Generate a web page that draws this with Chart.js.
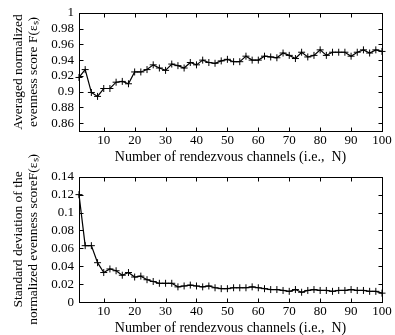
<!DOCTYPE html>
<html>
<head>
    <title>Evenness score vs rendezvous channels</title>
    <script src="https://cdn.jsdelivr.net/npm/chart.js"></script>
    <style>
        body { margin: 0; width: 395px; height: 335px; overflow: hidden; background: #fff; }
        .box { position: absolute; left: 0; width: 395px; }
        #topBox { top: 0; height: 166px; }
        #bottomBox { top: 140px; height: 197px; }
    </style>
</head>
<body>
    <div id="topBox" class="box"><canvas id="avgChart"></canvas></div>
    <div id="bottomBox" class="box"><canvas id="stdChart"></canvas></div>
<script>
// number of rendezvous channels
const channels = [2, 4, 6, 8, 10, 12, 14, 16, 18, 20, 22, 24, 26, 28, 30, 32, 34, 36, 38, 40,
    42, 44, 46, 48, 50, 52, 54, 56, 58, 60, 62, 64, 66, 68, 70, 72, 74, 76, 78, 80,
    82, 84, 86, 88, 90, 92, 94, 96, 98, 100];

// averaged normalized evenness score
const avgScore = [0.918, 0.928, 0.899, 0.894, 0.904, 0.904, 0.912, 0.913, 0.910, 0.925,
    0.925, 0.928, 0.934, 0.930, 0.927, 0.935, 0.933, 0.930, 0.937, 0.934,
    0.940, 0.937, 0.936, 0.939, 0.941, 0.938, 0.938, 0.945, 0.940, 0.940,
    0.945, 0.944, 0.943, 0.949, 0.946, 0.942, 0.950, 0.944, 0.946, 0.953,
    0.946, 0.950, 0.950, 0.950, 0.945, 0.950, 0.953, 0.949, 0.953, 0.951];

// standard deviation of the normalized evenness score
const stdScore = [0.120, 0.063, 0.063, 0.044, 0.033, 0.037, 0.035, 0.030, 0.033, 0.028,
    0.029, 0.025, 0.023, 0.021, 0.021, 0.021, 0.017, 0.018, 0.019, 0.018,
    0.017, 0.018, 0.016, 0.015, 0.015, 0.016, 0.016, 0.016, 0.017, 0.016,
    0.015, 0.014, 0.014, 0.013, 0.012, 0.014, 0.011, 0.013, 0.014, 0.013,
    0.013, 0.012, 0.013, 0.013, 0.014, 0.013, 0.013, 0.012, 0.012, 0.010];

const xTicks = [10, 20, 30, 40, 50, 60, 70, 80, 90, 100];
const avgTicks = [0.86, 0.88, 0.9, 0.92, 0.94, 0.96, 0.98, 1];
const stdTicks = [0, 0.02, 0.04, 0.06, 0.08, 0.1, 0.12, 0.14];

const xTitle = 'Number of rendezvous channels (i.e.,  N)';
const avgTitle = ['Averaged normalized', 'evenness score F(εₛ)'];
const stdTitle = ['Standard deviation of the', 'normalized evenness scoreF(εₛ)'];

const serif = 'Liberation Serif';

// gnuplot-like frame with inward ticks on all four sides
const frameTicks = {
    id: 'frameTicks',
    beforeDatasetsDraw(chart) {
        const { ctx, chartArea: a, scales } = chart;
        const len = 4;
        ctx.save();
        ctx.strokeStyle = '#000';
        ctx.lineWidth = 1;
        const l = Math.round(a.left) + 0.5, r = Math.round(a.right) + 0.5;
        const t = Math.round(a.top) + 0.5, b = Math.round(a.bottom) + 0.5;
        ctx.strokeRect(l, t, r - l, b - t);
        ctx.beginPath();
        scales.x.ticks.forEach(tk => {
            const px = Math.round(scales.x.getPixelForValue(tk.value)) + 0.5;
            ctx.moveTo(px, b); ctx.lineTo(px, b - len);
            ctx.moveTo(px, t); ctx.lineTo(px, t + len);
        });
        scales.y.ticks.forEach(tk => {
            const py = Math.round(scales.y.getPixelForValue(tk.value)) + 0.5;
            ctx.moveTo(l, py); ctx.lineTo(l + len, py);
            ctx.moveTo(r, py); ctx.lineTo(r - len, py);
        });
        ctx.stroke();
        ctx.restore();
    }
};

function makeChart(id, values, yMin, yMax, yTicks, yTitle, padTop, xHeight) {
    const ctx = document.getElementById(id).getContext('2d');
    return new Chart(ctx, {
        type: 'line',
        data: {
            datasets: [{
                data: channels.map((n, i) => ({ x: n, y: values[i] })),
                borderColor: '#000',
                borderWidth: 1.2,
                backgroundColor: '#000',
                pointStyle: 'cross',
                pointRadius: 3.5,
                pointBorderWidth: 1,
                pointBorderColor: '#000',
                tension: 0,
                clip: false
            }]
        },
        options: {
            responsive: true,
            maintainAspectRatio: false,
            animation: false,
            layout: { padding: { top: padTop, right: 13, left: 0, bottom: 0 } },
            plugins: { legend: { display: false }, tooltip: { enabled: false } },
            scales: {
                x: {
                    type: 'linear',
                    min: 2,
                    max: 100,
                    afterBuildTicks: s => { s.ticks = xTicks.map(v => ({ value: v })); },
                    afterFit: s => { s.height = xHeight; },
                    grid: { display: false, drawTicks: false },
                    border: { display: false },
                    ticks: {
                        padding: 2,
                        autoSkip: false,
                        color: '#000',
                        font: { family: serif, size: 13 },
                        maxRotation: 0,
                        callback: v => String(v)
                    },
                    title: {
                        display: true,
                        text: xTitle,
                        color: '#000',
                        padding: { top: 0, bottom: 0 },
                        font: { family: serif, size: 14 }
                    }
                },
                y: {
                    min: yMin,
                    max: yMax,
                    afterBuildTicks: s => { s.ticks = yTicks.map(v => ({ value: v })); },
                    afterFit: s => { s.width = 79; },
                    grid: { display: false, drawTicks: false },
                    border: { display: false },
                    ticks: {
                        padding: 5,
                        autoSkip: false,
                        color: '#000',
                        font: { family: serif, size: 13 },
                        callback: v => String(v)
                    },
                    title: {
                        display: true,
                        text: yTitle,
                        color: '#000',
                        padding: { top: 11, bottom: 0 },
                        font: { family: serif, size: 13.5, lineHeight: 1.12 }
                    }
                }
            }
        },
        plugins: [frameTicks]
    });
}

makeChart('avgChart', avgScore, 0.85, 1, avgTicks, avgTitle, 7, 34.9);
makeChart('stdChart', stdScore, 0, 0.14, stdTicks, stdTitle, 36.7, 34.9);
</script>
</body>
</html>
